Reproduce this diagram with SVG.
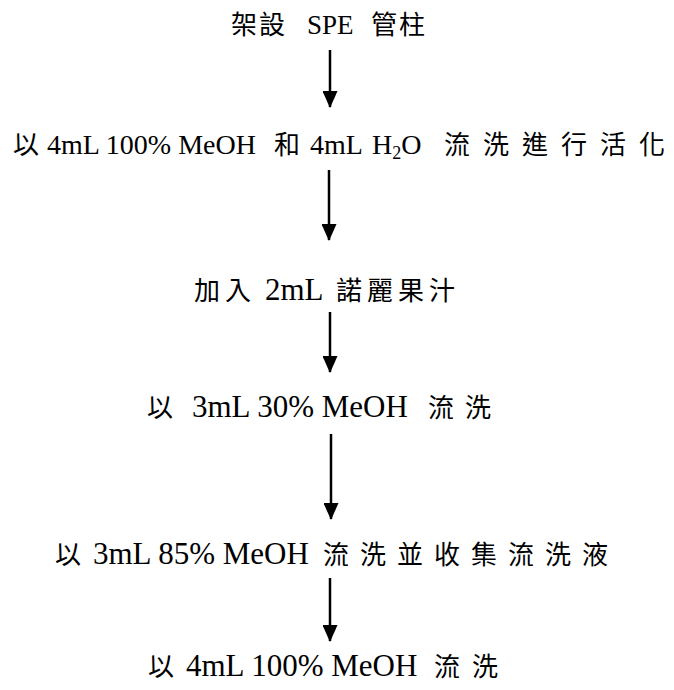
<svg xmlns="http://www.w3.org/2000/svg" width="674" height="690" viewBox="0 0 674 690">
<style>
  text{font-family:"Liberation Serif","Times New Roman",serif;font-size:31px;fill:#000}
  .cjk{font-family:"Noto Sans CJK TC","Noto Sans CJK SC",sans-serif;font-size:26px}
  .small{font-size:28px}
  .conn line{stroke:#000;stroke-width:2.5}
</style>
<defs>
  <marker id="ah" markerUnits="userSpaceOnUse" markerWidth="17" markerHeight="15" refX="16" refY="7.5" orient="auto">
    <path d="M0,0 L17,7.5 L0,15 Z" fill="#000"/>
  </marker>
</defs>
<rect width="674" height="690" fill="#fff"/>
<g id="step1">
  <text y="34" class="small"><tspan class="cjk" x="231 259">架設</tspan><tspan x="307" font-size="27">SPE</tspan><tspan class="cjk" x="371 399">管柱</tspan></text>
</g>
<g id="step2">
  <text y="154" class="small"><tspan class="cjk" x="13">以</tspan><tspan x="47">4mL 100% MeOH</tspan><tspan class="cjk" x="274">和</tspan><tspan x="310">4mL</tspan><tspan x="372">H</tspan><tspan font-size="18" dy="5">2</tspan><tspan dy="-5">O</tspan><tspan class="cjk" x="444 483 522 561 600 639">流洗進行活化</tspan></text>
</g>
<g id="step3">
  <text y="300"><tspan class="cjk" x="194 225">加入</tspan><tspan x="265">2mL</tspan><tspan class="cjk" x="336 367 398 429">諾麗果汁</tspan></text>
</g>
<g id="step4">
  <text y="417"><tspan class="cjk" x="147">以</tspan><tspan x="192">3mL 30% MeOH</tspan><tspan class="cjk" x="428 465">流洗</tspan></text>
</g>
<g id="step5">
  <text y="564"><tspan class="cjk" x="55">以</tspan><tspan x="93">3mL 85% MeOH</tspan><tspan class="cjk" x="323 360 397 434 471 508 545 582">流洗並收集流洗液</tspan></text>
</g>
<g id="step6">
  <text y="676"><tspan class="cjk" x="148">以</tspan><tspan x="186">4mL 100% MeOH</tspan><tspan class="cjk" x="434 472">流洗</tspan></text>
</g>
<g class="conn" id="connectors">
  <line x1="330" y1="50" x2="330" y2="107" marker-end="url(#ah)"/>
  <line x1="329" y1="170" x2="329" y2="240" marker-end="url(#ah)"/>
  <line x1="330" y1="312" x2="330" y2="372" marker-end="url(#ah)"/>
  <line x1="331" y1="434" x2="331" y2="519" marker-end="url(#ah)"/>
  <line x1="330" y1="578" x2="330" y2="641" marker-end="url(#ah)"/>
</g>
</svg>
